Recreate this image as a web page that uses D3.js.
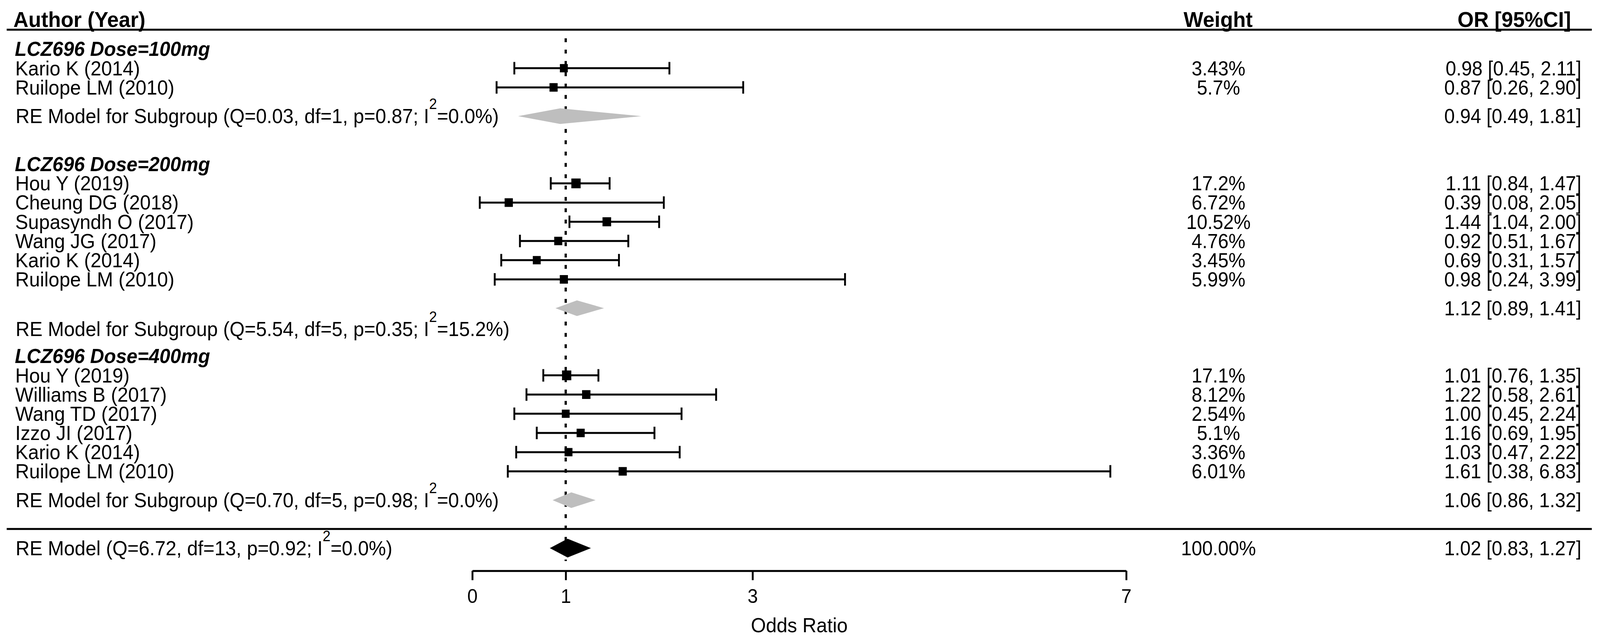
<!DOCTYPE html>
<html>
<head>
<meta charset="utf-8">
<script src="https://cdn.jsdelivr.net/npm/d3@7"></script>
<style>
  html, body { margin: 0; padding: 0; background: #fff; overflow: hidden; }
  svg { display: block; }
  text { font-family: "Liberation Sans", Arial, sans-serif; fill: #000; }
</style>
</head>
<body>
<div id="chart"></div>
<script>
// data
var groupNames = ["LCZ696 Dose=100mg", "LCZ696 Dose=200mg", "LCZ696 Dose=400mg"];
var groupQ = ["0.03", "5.54", "0.70"];
var groupDf = [1, 5, 5];
var groupP = ["0.87", "0.35", "0.98"];
var groupI2 = ["0.0", "15.2", "0.0"];
var groupOR = [0.94, 1.12, 1.06];
var groupLo = [0.49, 0.89, 0.86];
var groupHi = [1.81, 1.41, 1.32];

var studyGroup = [0, 0, 1, 1, 1, 1, 1, 1, 2, 2, 2, 2, 2, 2];
var studyLabel = ["Kario K (2014)", "Ruilope LM (2010)",
    "Hou Y (2019)", "Cheung DG (2018)", "Supasyndh O (2017)", "Wang JG (2017)", "Kario K (2014)", "Ruilope LM (2010)",
    "Hou Y (2019)", "Williams B (2017)", "Wang TD (2017)", "Izzo JI (2017)", "Kario K (2014)", "Ruilope LM (2010)"];
var studyOR = [0.98, 0.87, 1.11, 0.39, 1.44, 0.92, 0.69, 0.98, 1.01, 1.22, 1.00, 1.16, 1.03, 1.61];
var studyLo = [0.45, 0.26, 0.84, 0.08, 1.04, 0.51, 0.31, 0.24, 0.76, 0.58, 0.45, 0.69, 0.47, 0.38];
var studyHi = [2.11, 2.90, 1.47, 2.05, 2.00, 1.67, 1.57, 3.99, 1.35, 2.61, 2.24, 1.95, 2.22, 6.83];
var studyWeight = ["3.43%", "5.7%", "17.2%", "6.72%", "10.52%", "4.76%", "3.45%", "5.99%",
    "17.1%", "8.12%", "2.54%", "5.1%", "3.36%", "6.01%"];

var overallStats = { Q: "6.72", df: 13, p: "0.92", I2: "0.0" };
var overallOR = 1.02, overallLo = 0.83, overallHi = 1.27, overallWeight = "100.00%";

var xTicks = [0, 1, 3, 7];

// layout
var width = 4299, height = 1643;
var labelFont = 52, valueFont = 51;

// drawn in a 4299x1643 coordinate box, stretched to whatever the viewport is
var svg = d3.select("#chart")
    .append("svg")
    .attr("viewBox", "0 0 " + width + " " + height)
    .attr("preserveAspectRatio", "none")
    .style("width", "100vw")
    .style("height", "100vh");

var x = d3.scaleLinear().domain([0, 7]).range([1269, 3026]);
// row units -> pixels
var y = d3.scaleLinear().domain([0, 1]).range([125.4, 174.53]);

var weightX = 3274, orX = 4249;

function fmt(v) { return v.toFixed(2); }
function ciText(o, l, h) { return fmt(o) + " [" + fmt(l) + ", " + fmt(h) + "]"; }

// build rows: header, studies, subgroup summary
var rows = [];
var r = 0;
groupNames.forEach(function (name, g) {
    rows.push({ type: "header", row: r, text: name });
    studyGroup.forEach(function (sg, i) {
        if (sg === g) {
            r += 1;
            rows.push({ type: "study", row: r, i: i });
        }
    });
    r += 1.5;
    rows.push({ type: "summary", row: r, g: g });
    r += 2.5;
});
var lastSummary = rows[rows.length - 1].row;
var sepRow = lastSummary + 1.5;
var overallRow = sepRow + 1;
var axisY = y(overallRow + 1.18);

// subgroup label of the 200mg group sits a little below its diamond
var summaryLabelShift = [0, 1.08, 0];

// header
svg.append("text").attr("x", 36).attr("y", 69)
    .style("font-size", "56px").style("font-weight", "bold").text("Author (Year)");
svg.append("text").attr("x", 3273).attr("y", 69).attr("text-anchor", "middle")
    .style("font-size", "56px").style("font-weight", "bold").text("Weight");
svg.append("text").attr("x", 4221).attr("y", 69).attr("text-anchor", "end")
    .style("font-size", "56px").style("font-weight", "bold").text("OR [95%CI]");

svg.append("line").attr("x1", 18).attr("x2", 4277).attr("y1", 76).attr("y2", 76)
    .style("stroke", "#000").style("stroke-width", 5);
svg.append("line").attr("x1", 18).attr("x2", 4277).attr("y1", y(sepRow)).attr("y2", y(sepRow))
    .style("stroke", "#000").style("stroke-width", 5);

// reference line at OR = 1
svg.append("line")
    .attr("x1", x(1)).attr("x2", x(1))
    .attr("y1", 98).attr("y2", axisY - 25)
    .style("stroke", "#000").style("stroke-width", 6)
    .style("stroke-dasharray", "10 19");

function reLabel(sel, prefix, q, df, p, i2) {
    sel.append("tspan").text(prefix + "(Q=" + q + ", df=" + df + ", p=" + p + "; I");
    sel.append("tspan").attr("dy", -36).style("font-size", "38px").text("2");
    sel.append("tspan").attr("dy", 36).text("=" + i2 + "%)");
}

function diamond(o, l, h, yc, hh) {
    return [[x(l), yc], [x(o), yc - hh], [x(h), yc], [x(o), yc + hh]]
        .map(function (p) { return p.join(","); }).join(" ");
}

var size = d3.scaleLinear()
    .domain(d3.extent(studyWeight, function (w) { return parseFloat(w); }))
    .range([21, 25]);

var g = svg.append("g").attr("class", "rows");

rows.forEach(function (d) {
    var yc = y(d.row);
    if (d.type === "header") {
        g.append("text").attr("x", 40).attr("y", yc + 18)
            .style("font-size", labelFont + "px").style("font-weight", "bold").style("font-style", "italic")
            .text(d.text);
    } else if (d.type === "study") {
        var i = d.i;
        g.append("text").attr("x", 41).attr("y", yc + 18)
            .style("font-size", labelFont + "px").text(studyLabel[i]);
        g.append("line").attr("x1", x(studyLo[i])).attr("x2", x(studyHi[i]))
            .attr("y1", yc).attr("y2", yc).style("stroke", "#000").style("stroke-width", 5);
        [studyLo[i], studyHi[i]].forEach(function (v) {
            g.append("line").attr("x1", x(v)).attr("x2", x(v))
                .attr("y1", yc - 16).attr("y2", yc + 16)
                .style("stroke", "#000").style("stroke-width", 5);
        });
        var s = size(parseFloat(studyWeight[i]));
        g.append("rect").attr("x", x(studyOR[i]) - s / 2).attr("y", yc - s / 2)
            .attr("width", s).attr("height", s).style("fill", "#000");
        g.append("text").attr("x", weightX).attr("y", yc + 18).attr("text-anchor", "middle")
            .style("font-size", valueFont + "px").text(studyWeight[i]);
        g.append("text").attr("x", orX).attr("y", yc + 18).attr("text-anchor", "end")
            .style("font-size", valueFont + "px").text(ciText(studyOR[i], studyLo[i], studyHi[i]));
    } else {
        var k = d.g;
        g.append("polygon").attr("points", diamond(groupOR[k], groupLo[k], groupHi[k], yc, 20))
            .style("fill", "#bebebe");
        var t = g.append("text").attr("x", 42).attr("y", y(d.row + summaryLabelShift[k]) + 18)
            .style("font-size", labelFont + "px");
        reLabel(t, "RE Model for Subgroup ", groupQ[k], groupDf[k], groupP[k], groupI2[k]);
        g.append("text").attr("x", orX).attr("y", yc + 18).attr("text-anchor", "end")
            .style("font-size", valueFont + "px").text(ciText(groupOR[k], groupLo[k], groupHi[k]));
    }
});

// overall model
var yo = y(overallRow);
svg.append("polygon").attr("points", diamond(overallOR, overallLo, overallHi, yo, 24))
    .style("fill", "#000");
var ot = svg.append("text").attr("x", 42).attr("y", yo + 18).style("font-size", labelFont + "px");
reLabel(ot, "RE Model ", overallStats.Q, overallStats.df, overallStats.p, overallStats.I2);
svg.append("text").attr("x", weightX).attr("y", yo + 18).attr("text-anchor", "middle")
    .style("font-size", valueFont + "px").text(overallWeight);
svg.append("text").attr("x", orX).attr("y", yo + 18).attr("text-anchor", "end")
    .style("font-size", valueFont + "px").text(ciText(overallOR, overallLo, overallHi));

// x axis
var axis = svg.append("g")
    .attr("transform", "translate(0," + axisY + ")")
    .call(d3.axisBottom(x).tickValues(xTicks).tickSize(24).tickSizeOuter(0).tickFormat(d3.format("d")));
axis.select(".domain").style("stroke", "#000").style("stroke-width", 5);
axis.selectAll(".tick line").style("stroke", "#000").style("stroke-width", 5);
axis.selectAll(".tick text")
    .attr("y", 82).attr("dy", null)
    .style("font-size", "50px").style("font-family", "'Liberation Sans', Arial, sans-serif").style("fill", "#000");

svg.append("text").attr("x", x(3.5)).attr("y", 1618).attr("text-anchor", "middle")
    .style("font-size", labelFont + "px").text("Odds Ratio");
</script>
</body>
</html>
